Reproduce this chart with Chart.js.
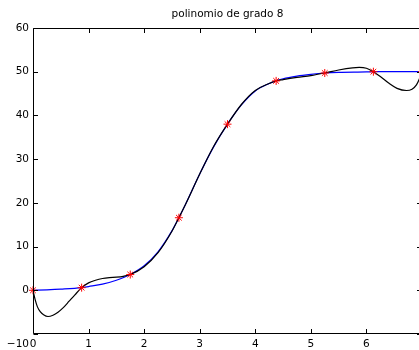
<!DOCTYPE html>
<html>
<head>
<meta charset="utf-8">
<script src="https://cdn.jsdelivr.net/npm/chart.js@4/dist/chart.umd.min.js"></script>
<style>
  html, body { margin: 0; padding: 0; overflow: hidden; background: #fff; }
  #c { display: block; }
</style>
</head>
<body>
<canvas id="c" width="424" height="350"></canvas>
<script>
// Title of the plot
const titleText = 'polinomio de grado 8';

// Interpolation nodes (red asterisks)
const nodeX = [0, 0.875, 1.75, 2.625, 3.5, 4.375, 5.25, 6.125, 7];
const nodeY = [0, 0.6, 3.6, 16.6, 38.0, 47.9, 49.7, 50.0, 50.0];

// Original function (blue curve)
const funcX = [0, 0.25, 0.5, 0.875, 1.0, 1.25, 1.5, 1.75, 2.0, 2.25, 2.5, 2.625, 2.75, 3.0, 3.25,
               3.5, 3.75, 4.0, 4.25, 4.375, 4.5, 4.75, 5.0, 5.25, 5.5, 6.0, 6.125, 6.5, 7.0];
const funcY = [0, 0.1, 0.25, 0.6, 0.85, 1.4, 2.3, 3.6, 5.6, 8.8, 13.6, 16.6, 19.8, 26.6, 32.8,
               38.0, 42.4, 45.6, 47.3, 47.9, 48.4, 49.0, 49.4, 49.7, 49.85, 49.95, 50, 50, 50];

// Degree-8 interpolating polynomial (black curve)
const polyX = [0, 0.04, 0.08, 0.13, 0.19, 0.27, 0.36, 0.45, 0.55, 0.65, 0.75, 0.875, 1.0, 1.125,
               1.25, 1.375, 1.5, 1.625, 1.75, 2.0, 2.25, 2.5, 2.625, 2.75, 3.0, 3.25, 3.5, 3.75,
               4.0, 4.25, 4.375, 4.5, 4.75, 5.0, 5.25, 5.5, 5.75, 5.87, 6.0, 6.125, 6.25, 6.4,
               6.55, 6.72, 6.82, 6.9, 6.95, 7.0];
const polyY = [0, -2.2, -3.8, -4.9, -5.6, -6.0, -5.7, -5.0, -3.9, -2.5, -1.1, 0.6, 1.7, 2.3,
               2.7, 2.9, 3.0, 3.2, 3.6, 5.4, 8.6, 13.5, 16.6, 19.8, 26.6, 32.9, 38.0, 42.5,
               45.7, 47.3, 47.9, 48.2, 48.7, 49.1, 49.7, 50.4, 50.9, 51.0, 50.8, 50.0, 48.9, 47.4,
               46.2, 45.7, 46.0, 47.0, 48.3, 50.0];

// Axis ticks
const xTicks = [0, 1, 2, 3, 4, 5, 6, 7];
const xTickLabels = ['0', '1', '2', '3', '4', '5', '6', ''];
const yTicks = [-10, 0, 10, 20, 30, 40, 50, 60];
const yTickLabels = [['', '\u221210'], '0', '10', '20', '30', '40', '50', '60'];

const toPts = (xs, ys) => xs.map((x, i) => ({ x, y: ys[i] }));

const FONT = { family: '"DejaVu Sans", "Liberation Sans", Arial, sans-serif', size: 10.5 };

// Box frame with inward-pointing tick marks on all four sides
const frameTicks = {
  id: 'frameTicks',
  afterDraw(chart) {
    const { ctx, chartArea: a, scales: { x, y } } = chart;
    const L = 4.5;
    const top = Math.round(a.top) + 0.5;
    const bottom = Math.round(a.bottom) - 0.5;
    const left = Math.round(a.left) + 0.5;
    const right = Math.round(a.right) - 0.5;
    ctx.save();
    ctx.strokeStyle = '#000';
    ctx.lineWidth = 1;
    ctx.beginPath();
    ctx.moveTo(left, top); ctx.lineTo(right, top); ctx.lineTo(right, bottom);
    ctx.lineTo(left, bottom); ctx.lineTo(left, top);
    xTicks.forEach(v => {
      const px = Math.round(x.getPixelForValue(v)) + 0.5;
      ctx.moveTo(px, bottom); ctx.lineTo(px, bottom - L);
      ctx.moveTo(px, top); ctx.lineTo(px, top + L);
    });
    yTicks.forEach(v => {
      const py = Math.round(y.getPixelForValue(v)) + 0.5;
      ctx.moveTo(left, py); ctx.lineTo(left + L, py);
      ctx.moveTo(right, py); ctx.lineTo(right - L, py);
    });
    ctx.stroke();
    ctx.restore();
  }
};

const noPad = s => { s.paddingLeft = 0; s.paddingRight = 0; s.paddingTop = 0; s.paddingBottom = 0; };

new Chart(document.getElementById('c'), {
  type: 'scatter',
  data: {
    datasets: [
      {
        label: 'nodos',
        data: toPts(nodeX, nodeY),
        showLine: false,
        pointStyle: 'star',
        pointRadius: 4,
        pointBorderWidth: 1,
        pointBorderColor: '#ff0000',
        pointBackgroundColor: '#ff0000',
        clip: false,
        order: 0
      },
      {
        label: 'polinomio',
        data: toPts(polyX, polyY),
        showLine: true,
        borderColor: '#000000',
        borderWidth: 1.2,
        pointRadius: 0,
        cubicInterpolationMode: 'monotone',
        order: 1
      },
      {
        label: 'funcion',
        data: toPts(funcX, funcY),
        showLine: true,
        borderColor: '#0000ff',
        borderWidth: 1.2,
        pointRadius: 0,
        cubicInterpolationMode: 'monotone',
        order: 2
      }
    ]
  },
  options: {
    responsive: false,
    animation: false,
    events: [],
    layout: { autoPadding: false, padding: { left: 0, right: 2, top: 0, bottom: 0 } },
    plugins: {
      legend: { display: false },
      tooltip: { enabled: false },
      title: {
        display: true,
        text: titleText,
        fullSize: false,
        color: '#000',
        font: { ...FONT, weight: 'normal' },
        padding: { top: 8, bottom: 7.4 }
      }
    },
    scales: {
      x: {
        type: 'linear',
        min: 0, max: 7,
        afterBuildTicks: s => { s.ticks = xTicks.map(v => ({ value: v })); },
        afterFit: s => { s.height = 16; noPad(s); },
        grid: { display: false, drawTicks: false },
        border: { display: false },
        ticks: {
          autoSkip: false,
          maxRotation: 0,
          padding: 4,
          color: '#000',
          font: FONT,
          callback: v => xTickLabels[xTicks.indexOf(v)]
        }
      },
      y: {
        type: 'linear',
        min: -10, max: 60,
        afterBuildTicks: s => { s.ticks = yTicks.map(v => ({ value: v })); },
        afterFit: s => { s.width = 33; noPad(s); },
        grid: { display: false, drawTicks: false },
        border: { display: false },
        ticks: {
          autoSkip: false,
          padding: 4,
          color: '#000',
          font: { ...FONT, lineHeight: '20px' },
          callback: v => yTickLabels[yTicks.indexOf(v)]
        }
      }
    }
  },
  plugins: [frameTicks]
});
</script>
</body>
</html>
